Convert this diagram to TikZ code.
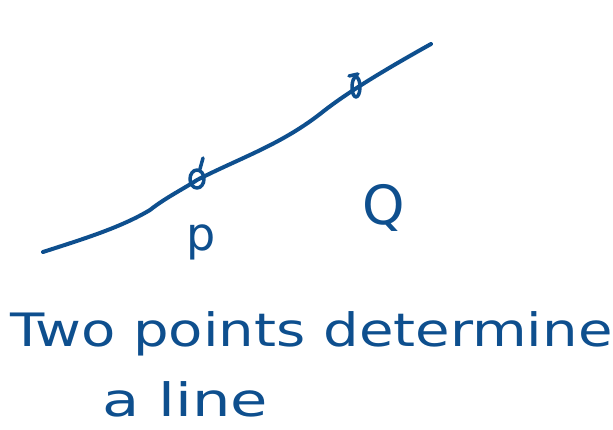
\documentclass[tikz,border=0pt]{standalone}
\usepackage{fontspec}
\setmainfont{DejaVu Sans}
\definecolor{ink}{HTML}{0E4F8E}
\begin{document}
\begin{tikzpicture}[x=1pt,y=-1pt,
  stroke/.style={draw=ink,line width=4pt,line cap=round,line join=round},
  hand/.style={text=ink,inner sep=0pt,anchor=base west}]
\useasboundingbox (0,0) rectangle (613,430);
\coordinate (s) at (43,252);
\coordinate (e) at (431,44);
\draw[stroke] (s) .. controls (80,240) and (120,228) .. (150,210)
  .. controls (165,198) and (185,188) .. (197,180)
  .. controls (240,158) and (280,145) .. (320,114)
  .. controls (340,98) and (370,78) .. (e);
% point P mark
\coordinate (p) at (197,179);
\draw[stroke,line width=3.5pt] (p) ellipse (7 and 9);
\draw[stroke,line width=3.5pt] (200,169) -- (203,158);
% point Q mark
\coordinate (q) at (356,87);
\draw[stroke,line width=3.5pt] (q) ellipse (4 and 10);
\draw[stroke,line width=3.5pt] (349,76) -- (358,74);
\node[hand,font=\fontsize{46}{46}\selectfont,anchor=center] (P) at (201,242) {p};
\node[hand,font=\fontsize{54}{54}\selectfont,anchor=center] (Q) at (384,208) {Q};
\node[hand,font=\fontsize{46}{46}\selectfont] (t1) at (10,346) {\scalebox{1.22}[1]{Two points determine}};
\node[hand,font=\fontsize{46}{46}\selectfont] (t2) at (102,416) {\scalebox{1.32}[1]{a line}};
\end{tikzpicture}
\end{document}
